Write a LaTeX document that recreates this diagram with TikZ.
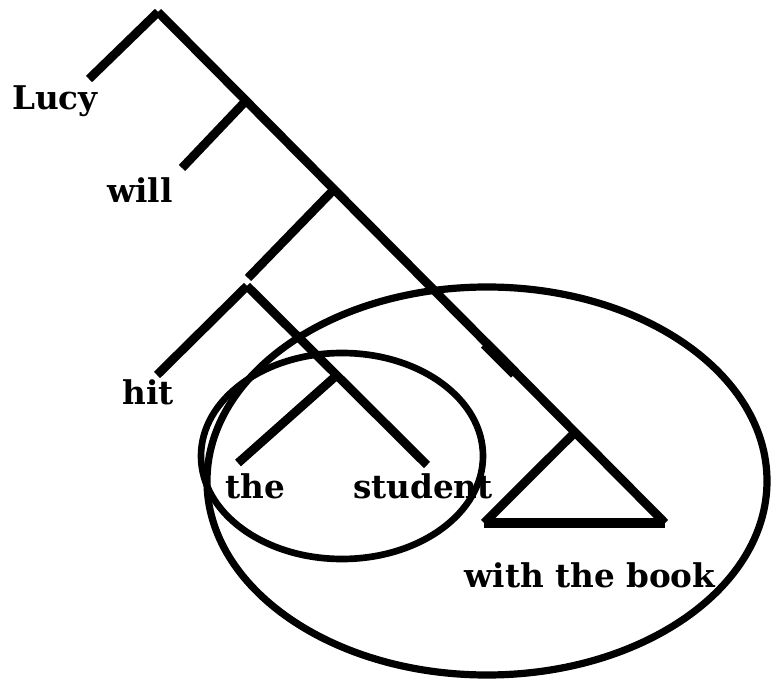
\documentclass[tikz,border=0pt]{standalone}
\usepackage{fontspec}
\setmainfont{DejaVu Serif}
\usetikzlibrary{positioning}
\tikzset{
    branch/.style={line width=6.6pt},
    word/.style={font=\fontsize{24.5}{27}\selectfont\bfseries, inner sep=0pt, anchor=base},
    ring/.style={line width=5pt}
}

\begin{document}
\begin{tikzpicture}[x=0.75pt, y=-0.75pt]
    \useasboundingbox (0,0) rectangle (774,680);
    % spine of the tree
    \coordinate (top) at (158,12);
    \coordinate (tp) at (246,100.7);
    \coordinate (tbar) at (334,189.4);
    \coordinate (pp) at (575,432.3);
    \coordinate (spineend) at (665,523);
    \coordinate (lucyend) at (89,79);
    \coordinate (willend) at (182,168);
    \coordinate (tbarend) at (248,278);
    \draw[branch] (top) -- (spineend);
    \draw[branch] (top) -- (lucyend);
    \draw[branch] (tp) -- (willend);
    \draw[branch] (tbar) -- (tbarend);
    % thick blot on the spine
    \coordinate (blota) at (485,343.5);
    \coordinate (blotb) at (515,373.5);
    \draw[line width=8.6pt] (blota) -- (blotb);
    % the VP
    \coordinate (vp) at (247,286);
    \coordinate (np) at (337,375);
    \coordinate (hitend) at (157,375);
    \coordinate (theend) at (238,463);
    \coordinate (studentend) at (427,465);
    \draw[branch] (vp) -- (studentend);
    \draw[branch] (vp) -- (hitend);
    \draw[branch] (np) -- (theend);
    % triangle over the PP
    \coordinate (baseleft) at (484,523);
    \draw[branch] (pp) -- (baseleft);
    \draw[line width=8pt] (baseleft) -- (spineend);
    % words
    \node[word] (lucy) at (55,110) {Lucy};
    \node[word] (will) at (140,203) {will};
    \node[word] (hit) at (148,405) {hit};
    \node[word] (the) at (255,498) {the};
    \node[word] (student) at (423,498) {student};
    \node[word] (book) at (590,587) {with the book};
    % circles
    \coordinate (bigc) at (487,481);
    \coordinate (smallc) at (342,456);
    \draw[ring, line width=5.4pt] (bigc) ellipse [x radius=210pt, y radius=145.5pt];
    \draw[ring] (smallc) ellipse [x radius=105.75pt, y radius=77.25pt];
\end{tikzpicture}
\end{document}
